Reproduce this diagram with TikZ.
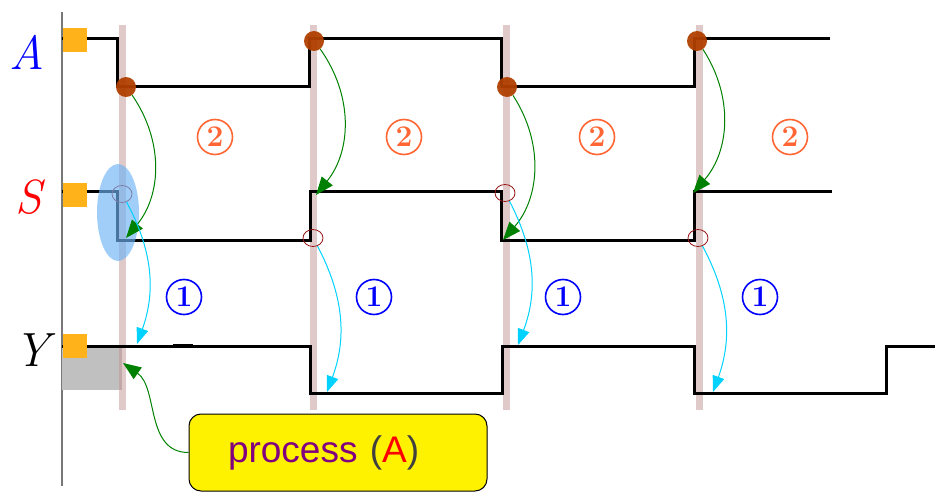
\documentclass[tikz,border=0pt]{standalone}
\usepackage{fontspec}
\newfontfamily\procfont{Liberation Sans}
\usetikzlibrary{arrows.meta,shapes.geometric}
\definecolor{sqorange}{RGB}{255,178,25}
\definecolor{dotbrown}{RGB}{176,64,0}
\definecolor{barpink}{RGB}{194,148,148}
\definecolor{ringred}{RGB}{150,20,20}
\definecolor{arrgreen}{RGB}{0,128,0}
\definecolor{arrcyan}{RGB}{0,210,255}
\definecolor{numorange}{RGB}{255,102,51}
\definecolor{procpurple}{RGB}{128,0,128}
\definecolor{pargray}{RGB}{64,64,64}
\definecolor{ellblue}{RGB}{110,180,245}
\definecolor{axisgray}{RGB}{120,120,120}
\definecolor{rectgray}{RGB}{192,192,192}
\begin{document}
\begin{tikzpicture}[x=1pt,y=1pt,
  sig/.style={line width=3pt, line join=miter},
  sq/.style={rectangle, fill=sqorange, minimum size=24pt, inner sep=0pt},
  edot/.style={circle, fill=dotbrown, fill opacity=0.95, minimum size=20pt, inner sep=0pt},
  ring/.style={ellipse, draw=ringred, line width=0.8pt, minimum width=20pt, minimum height=17pt, inner sep=0pt},
  garrow/.style={draw=arrgreen, line width=1pt, -{Triangle[length=18pt,width=14pt]}},
  carrow/.style={draw=arrcyan, line width=1pt, -{Triangle[length=16pt,width=12pt]}},
  numtwo/.style={circle, draw=numorange, text=numorange, line width=1.6pt, minimum size=35pt, inner sep=0pt, font=\bfseries\fontsize{30}{30}\selectfont},
  numone/.style={circle, draw=blue, text=blue, line width=1.6pt, minimum size=35pt, inner sep=0pt, font=\bfseries\fontsize{30}{30}\selectfont},
  lbl/.style={font=\itshape\fontsize{48}{48}\selectfont, inner sep=0pt},
  procbox/.style={rectangle, rounded corners=12pt, fill=yellow, draw=black, line width=1pt,
    minimum width=298pt, minimum height=77pt, inner xsep=39pt, inner ysep=0pt,
    text width=220pt, align=left, font=\procfont\fontsize{37}{37}\selectfont}
]
\useasboundingbox (0,0) rectangle (935,491);

% axis
\draw[axisgray, line width=1.5pt] (62,479) -- (62,5);

% gray rectangle
\fill[rectgray] (62,144) rectangle (122,101);

% timing bars
\foreach \bx in {122,313,506,699}{
  \fill[barpink, opacity=0.5] (\bx-3.5,81) rectangle (\bx+3.5,466);
}

% signals
\draw[sig] (62,452) -- (117,452) -- (117,404) -- (309,404) -- (309,452) -- (501,452) -- (501,404) -- (694,404) -- (694,452) -- (830,452);
\draw[sig] (62,299) -- (117,299) -- (117,251) -- (310,251) -- (310,299) -- (501,299) -- (501,251) -- (694,251) -- (694,299) -- (832,299);
\draw[sig] (62,145) -- (310,145) -- (310,98) -- (502,98) -- (502,145) -- (694,145) -- (694,98) -- (886,98) -- (886,145) -- (935,145);
\draw[line width=4.5pt] (173,145) -- (193,145);

% squares
\node[sq] (sqA) at (75,451) {};
\node[sq] (sqS) at (75,296) {};
\node[sq] (sqY) at (75,145) {};

% labels
\node[lbl, text=blue] (lA) at (27,439) {A};
\node[lbl, text=red] (lS) at (29,294) {S};
\node[lbl, text=black] (lY) at (32,141) {Y};

% dots on A
\node[edot] (d1) at (126,404) {};
\node[edot] (d2) at (314,450) {};
\node[edot] (d3) at (507,404) {};
\node[edot] (d4) at (697,450) {};

% rings on S
\node[ring] (c1) at (122,297) {};
\node[ring] (c2) at (313,253) {};
\node[ring] (c3) at (505,298) {};
\node[ring] (c4) at (698,253) {};

% arrow targets
\coordinate (g1) at (126,253);
\coordinate (g2) at (316,296);
\coordinate (g3) at (503,251);
\coordinate (g4) at (693,298);
\coordinate (t1) at (137,147);
\coordinate (t2) at (327,99);
\coordinate (t3) at (518,146);
\coordinate (t4) at (713,99);
\coordinate (gt) at (123,128);

% blue ellipse
\node[ellipse, fill=ellblue, fill opacity=0.65, minimum width=42pt, minimum height=97pt, inner sep=0pt] (ell) at (118,278.5) {};

% green arrows
\draw[garrow] (d1) to[bend left=37] (g1);
\draw[garrow] (d2) to[bend left=37] (g2);
\draw[garrow] (d3) to[bend left=37] (g3);
\draw[garrow] (d4) to[bend left=37] (g4);

% cyan arrows
\draw[carrow] (c1) to[bend left=24] (t1);
\draw[carrow] (c2) to[bend left=24] (t2);
\draw[carrow] (c3) to[bend left=24] (t3);
\draw[carrow] (c4) to[bend left=24] (t4);

% circled numbers
\node[numtwo] (n21) at (215,354) {2};
\node[numtwo] (n22) at (404,354) {2};
\node[numtwo] (n23) at (597,354) {2};
\node[numtwo] (n24) at (790,354) {2};
\node[numone] (n11) at (184,194) {1};
\node[numone] (n12) at (374,194) {1};
\node[numone] (n13) at (563,194) {1};
\node[numone] (n14) at (760,194) {1};

% process box
\node[procbox] (proc) at (338,38.5) {\textcolor{procpurple}{process} \textcolor{pargray}{(}\textcolor{red}{A}\textcolor{pargray}{)}};
\draw[garrow] (proc.west) to[out=180,in=-35] (gt);
\end{tikzpicture}
\end{document}
